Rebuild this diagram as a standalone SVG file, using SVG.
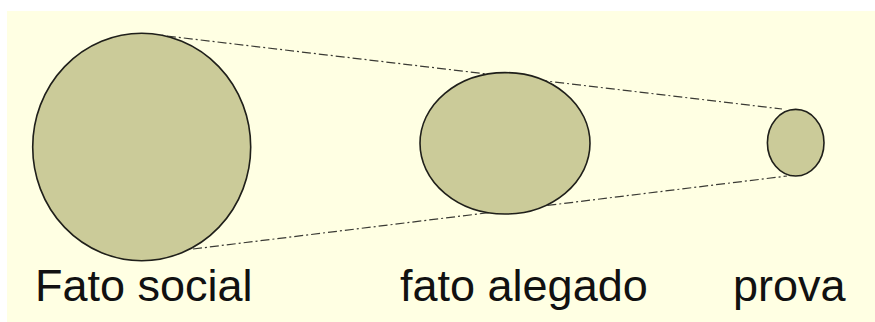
<svg xmlns="http://www.w3.org/2000/svg" width="875" height="322" viewBox="0 0 875 322">
  <style>
    .shape { fill: #CBCB99; stroke: #1f1f1a; stroke-width: 1.6; }
    .conn { fill: none; stroke: #3a3a34; stroke-width: 1.2; stroke-dasharray: 9 3 2 3; }
    .label { font-family: "Liberation Sans", Arial, sans-serif; font-size: 45px; fill: #111; }
  </style>
  <rect x="0" y="0" width="875" height="322" fill="#ffffff"/>
  <rect x="7" y="11" width="868" height="311" fill="#FFFFE3"/>
  <g id="connectors">
    <line class="conn" x1="150" y1="34" x2="782" y2="109"/>
    <line class="conn" x1="193" y1="249" x2="787" y2="176"/>
  </g>
  <g id="fato-social">
    <ellipse class="shape" cx="141.7" cy="147" rx="109" ry="113.7"/>
    <text class="label" x="35" y="301">Fato social</text>
  </g>
  <g id="fato-alegado">
    <ellipse class="shape" cx="505" cy="143.3" rx="85" ry="70.7"/>
    <text class="label" x="400" y="301">fato alegado</text>
  </g>
  <g id="prova">
    <ellipse class="shape" cx="795.7" cy="142.7" rx="28.3" ry="33.3"/>
    <text class="label" x="733" y="301">prova</text>
  </g>
</svg>
